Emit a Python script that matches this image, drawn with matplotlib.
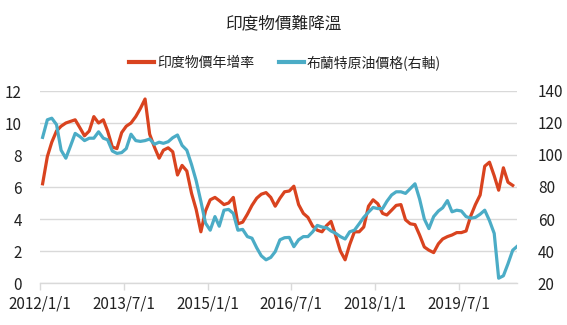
import matplotlib
matplotlib.use("Agg")
import matplotlib.pyplot as plt
import matplotlib.dates as mdates
import pandas as pd
from matplotlib.lines import Line2D

plt.rcParams['font.family'] = ['Noto Sans CJK TC', 'DejaVu Sans']

# 印度 CPI 年增率 (%)，2012/01 起逐月
india_cpi = [
    6.2, 7.9, 8.8, 9.5, 9.8, 10.0, 10.1, 10.2, 9.7, 9.2, 9.5, 10.4,
    10.0, 10.2, 9.5, 8.5, 8.4, 9.4, 9.8, 10.0, 10.4, 10.9, 11.5, 9.3,
    8.5, 7.8, 8.3, 8.45, 8.2, 6.75, 7.35, 7.0, 5.6, 4.6, 3.2, 4.5,
    5.2, 5.35, 5.15, 4.9, 5.0, 5.35, 3.7, 3.8, 4.3, 4.85, 5.3, 5.55,
    5.65, 5.35, 4.8, 5.3, 5.7, 5.75, 6.05, 4.9, 4.35, 4.1, 3.55, 3.3,
    3.2, 3.6, 3.85, 2.95, 2.0, 1.45, 2.4, 3.2, 3.2, 3.5, 4.8, 5.2,
    4.95, 4.35, 4.25, 4.55, 4.85, 4.9, 3.95, 3.7, 3.65, 3.0, 2.25, 2.05,
    1.9, 2.45, 2.75, 2.9, 3.0, 3.15, 3.15, 3.25, 4.2, 4.9, 5.5, 7.3,
    7.55, 6.7, 5.8, 7.2, 6.3, 6.1,
]

# 布蘭特原油價格 (美元/桶)，2012/01 起逐月
brent = [
    111, 122, 123, 119, 103, 98, 105.5, 113.5, 111.5, 109, 110.5, 110.5,
    114.5, 110.5, 109.5, 102.5, 101, 101.5, 104, 113, 109, 108.5, 109, 110,
    106.7, 108, 107.3, 108.3, 110.8, 112.5, 106, 103, 94, 84, 71, 57.5,
    53, 61.5, 55.5, 65.5, 66, 63.5, 53, 53.5, 49, 48, 42, 37,
    34.5, 36, 39.6, 47, 48.3, 48.5, 42.7, 47, 49, 49, 52, 56,
    55, 54.5, 52.5, 51, 49, 47.5, 52, 53, 57, 61, 64.3, 67.2,
    66.5, 66.5, 71, 75, 77, 77, 76, 79, 82, 72.5, 60, 54,
    61.5, 65, 67, 71.5, 64.5, 65.5, 65, 61.5, 60.5, 61, 63, 65.5,
    59, 51, 23, 24.5, 32, 40.5, 43,
]

start_month = "2012-01-01"
tick_dates = ["2012-01-01", "2013-07-01", "2015-01-01",
              "2016-07-01", "2018-01-01", "2019-07-01"]
tick_labels = ["2012/1/1", "2013/7/1", "2015/1/1",
               "2016/7/1", "2018/1/1", "2019/7/1"]

title = "印度物價難降溫"
label_cpi = "印度物價年增率"
label_brent = "布蘭特原油價格(右軸)"

red = "#D9431F"
teal = "#4BACC6"
grid_c = "#D9D9D9"

months_cpi = pd.date_range(start_month, periods=len(india_cpi), freq="MS") + pd.Timedelta(days=17)
months_brent = pd.date_range(start_month, periods=len(brent), freq="MS") + pd.Timedelta(days=17)

fig = plt.figure(figsize=(5.67, 3.25), dpi=100)
ax = fig.add_axes([40 / 567, 42 / 325, 477 / 567, 192 / 325])
ax2 = ax.twinx()

ax.plot(months_cpi, india_cpi, color=red, lw=2.3, solid_joinstyle="round", zorder=3)
ax2.plot(months_brent, brent, color=teal, lw=2.3, solid_joinstyle="round", zorder=3)

ax.set_ylim(0, 12)
ax.set_yticks(range(0, 13, 2))
ax2.set_ylim(20, 140)
ax2.set_yticks(range(20, 141, 20))

ax.set_xlim(pd.Timestamp("2012-01-01"), pd.Timestamp("2020-07-16"))
ax.set_xticks(pd.to_datetime(tick_dates))
ax.set_xticklabels(tick_labels)

ax.grid(axis="y", color=grid_c, lw=1.0)
ax.set_axisbelow(True)

for a in (ax, ax2):
    for side in ("top", "left", "right"):
        a.spines[side].set_visible(False)
    a.spines["bottom"].set_color(grid_c)
    a.spines["bottom"].set_linewidth(1.0)
ax2.spines["bottom"].set_visible(False)

ax.tick_params(axis="x", direction="out", length=5, width=1, color=grid_c,
               labelsize=11, pad=4, labelcolor="#222222")
ax.tick_params(axis="y", length=0, labelsize=11, pad=13, labelcolor="#222222")
ax2.tick_params(axis="y", length=0, labelsize=11, pad=15, labelcolor="#222222")

fig.text(283 / 567, 1 - 24 / 325, title, ha="center", va="center",
         fontsize=12, color="#222222")

handles = [Line2D([], [], color=red, lw=3), Line2D([], [], color=teal, lw=3)]
fig.legend(handles, [label_cpi, label_brent], loc="center",
           bbox_to_anchor=(285 / 567, 1 - 62.5 / 325), ncol=2, frameon=False,
           fontsize=10, handlelength=1.8, handletextpad=0.2, columnspacing=1.8,
           labelcolor="#222222")

fig.savefig("out.png", dpi=100)
